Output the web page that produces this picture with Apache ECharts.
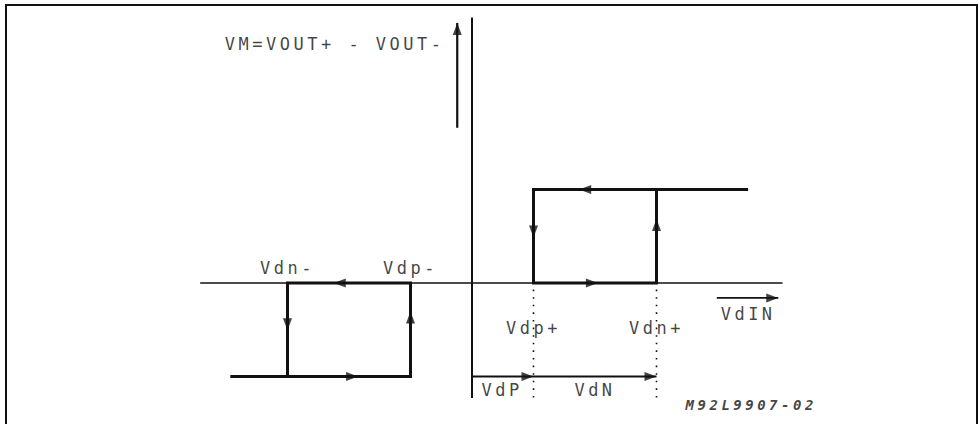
<!DOCTYPE html>
<html><head><meta charset="utf-8">
<script src="https://cdn.jsdelivr.net/npm/echarts@6/dist/echarts.min.js"></script>
<style>
html,body{margin:0;padding:0;background:#fff;}
#c{width:980px;height:424px;letter-spacing:3.5px;}
</style></head><body><div id="c"></div>
<script>
// ---- data (VdIN in threshold units, VM normalised) ----
const thresholdNames = ['Vdn-', 'Vdp-', 'Vdp+', 'Vdn+'];
const thresholdValues = [-3, -1, 1, 3];
const outputLevels = [-1, 0, 1];              // VM low / zero / high
const inputAxisRange = [-4.42, 5.05];
const outputAxisRange = [-1.23, 2.84];
const lowBranchStart = -3.93;
const highBranchEnd = 4.49;
// arrows along the loops
const arrowX   = [-2.15, -1.95, -3, -1, 1.84, 1.95, 1, 3];
const arrowY   = [0, -1, -0.44, -0.37, 1, 0, 0.55, 0.62];
const arrowDir = ['left','right','down','up','left','right','down','up'];
// dimension arrows (VdP, VdN)
const dimNames = ['VdP', 'VdN'];
const dimStart = [0, 1];
const dimEnd = [1, 3];
const dimLevel = -1;
// VdIN axis label arrow
const vdinArrow = [3.98, 4.98];
const vdinLevel = -0.16;
// VM label arrow
const vmArrowX = -0.24;
const vmArrow = [1.66, 2.78];
const vmLabel = 'VM=VOUT+ - VOUT-';
const figId = 'M92L9907-02';
const dotted = [-0.07, -1.24];

// ---- layout ----
const PXX = 61.5, PXY = 93.5, OX = 472, OY = 283;
const XMIN = -4.6, XMAX = 5.2, YMIN = -1.4, YMAX = 2.9;
const INK = '#111';
const FONT = 'DejaVu Sans Mono';
const rot = {up:0, left:90, down:180, right:-90};

function line(data, w, type) {
  return {type:'line', data:data, symbol:'none', silent:true, animation:false,
    lineStyle:{color:INK, width:w, type:type||'solid', cap:'butt', join:'miter'}, z:2};
}
function txt(name, x, y, opts) {
  return Object.assign({name:name, value:[x,y]}, opts||{});
}

const lo = outputLevels[0], zero = outputLevels[1], hi = outputLevels[2];
const [tNm, tPm, tPp, tNp] = thresholdValues;

const series = [
  line([[inputAxisRange[0], zero],[inputAxisRange[1], zero]], 1.6),
  line([[0, outputAxisRange[0]],[0, outputAxisRange[1]]], 2),
  line([[lowBranchStart, lo],[tPm, lo],[tPm, zero],[tNm, zero],[tNm, lo]], 3),
  line([[highBranchEnd, hi],[tPp, hi],[tPp, zero],[tNp, zero],[tNp, hi]], 3),
  line([[tPp, dotted[0]],[tPp, dotted[1]]], 1.6, [1.6, 6]),
  line([[tNp, dotted[0]],[tNp, dotted[1]]], 1.6, [1.6, 6]),
  line([[dimStart[0], dimLevel],[dimEnd[1], dimLevel]], 2),
  line([[vdinArrow[0], vdinLevel],[vdinArrow[1], vdinLevel]], 1.8),
  line([[vmArrowX, vmArrow[0]],[vmArrowX, vmArrow[1]]], 2.2),
];

// arrowheads
const heads = arrowX.map((x,i)=>({value:[x, arrowY[i]], symbolRotate:rot[arrowDir[i]]}));
const L = 12;
dimEnd.forEach(x=>heads.push({value:[x, dimLevel], symbolRotate:rot.right, symbolOffset:[-L/2,0]}));
heads.push({value:[vdinArrow[1], vdinLevel], symbolRotate:rot.right, symbolOffset:[-L/2,0]});
heads.push({value:[vmArrowX, vmArrow[1]], symbolRotate:rot.up, symbolOffset:[0,L/2]});
series.push({type:'scatter', data:heads, symbol:'triangle', symbolSize:[9,L], silent:true,
  animation:false, itemStyle:{color:INK}, z:3, clip:false});

// text labels
const labelData = [
  txt(thresholdNames[0], tNm, 0.16),
  txt(thresholdNames[1], tPm, 0.16),
  txt(thresholdNames[2], tPp, -0.48),
  txt(thresholdNames[3], tNp, -0.48),
  txt('VdIN', 4.49, -0.33),
  txt(dimNames[0], 0.49, -1.14),
  txt(dimNames[1], 2.0, -1.14),
  txt(vmLabel, -4.02, 2.56, {label:{align:'left'}}),
  txt(figId, 4.54, -1.31, {label:{fontSize:14, fontWeight:'bold', fontStyle:'italic'}}),
];
series.push({type:'scatter', data:labelData, symbolSize:0, silent:true, animation:false, clip:false, z:4,
  label:{show:true, position:'inside', formatter:'{b}', color:INK, fontFamily:FONT, fontSize:17,
    align:'center', verticalAlign:'middle'}});

const chart = echarts.init(document.getElementById('c'), null, {renderer:'svg'});
chart.setOption({
  backgroundColor:'#fff',
  animation:false,
  grid:{left:OX + XMIN*PXX, width:(XMAX-XMIN)*PXX, top:OY - YMAX*PXY, height:(YMAX-YMIN)*PXY, containLabel:false},
  xAxis:{type:'value', min:XMIN, max:XMAX, show:false},
  yAxis:{type:'value', min:YMIN, max:YMAX, show:false},
  graphic:[{type:'rect', shape:{x:6, y:5, width:971, height:430}, style:{fill:null, stroke:INK, lineWidth:2}, silent:true}],
  series:series
});
</script></body></html>
